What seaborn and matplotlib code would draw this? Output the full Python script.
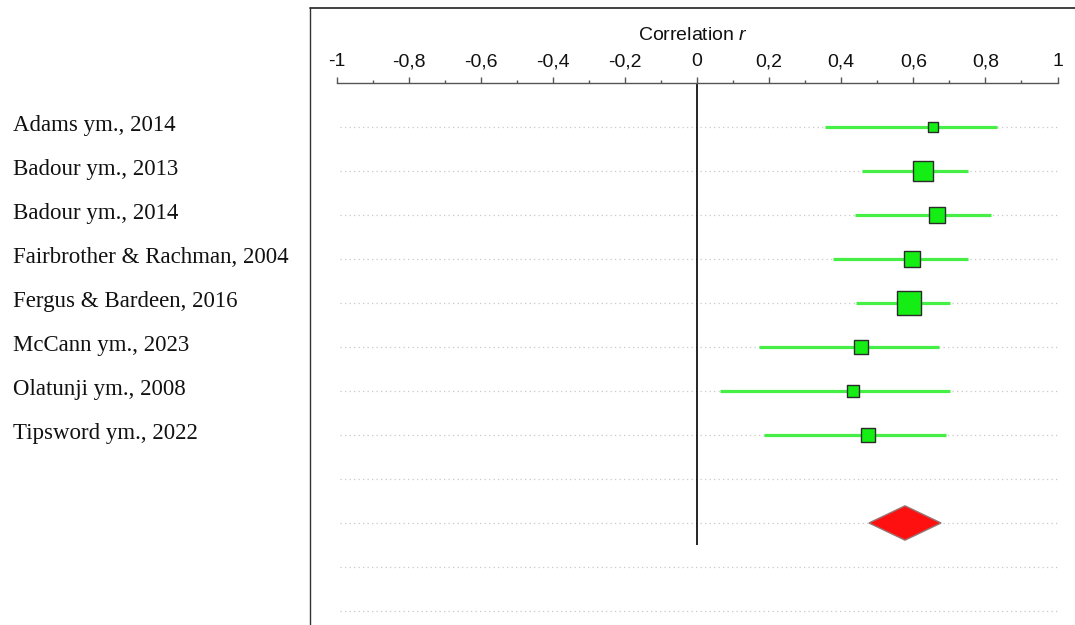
import matplotlib
matplotlib.use("Agg")
import matplotlib.pyplot as plt
import seaborn as sns
import pandas as pd
import numpy as np

# ---------------- data ----------------
studies = ["Adams ym., 2014", "Badour ym., 2013", "Badour ym., 2014",
           "Fairbrother & Rachman, 2004", "Fergus & Bardeen, 2016",
           "McCann ym., 2023", "Olatunji ym., 2008", "Tipsword ym., 2022"]
r_est = [0.655, 0.627, 0.666, 0.596, 0.588, 0.455, 0.433, 0.474]
ci_low = [0.355, 0.458, 0.438, 0.378, 0.441, 0.172, 0.064, 0.186]
ci_high = [0.832, 0.752, 0.816, 0.752, 0.702, 0.671, 0.702, 0.691]
weights = [5.3, 17.5, 11.2, 12.6, 27.4, 9.8, 6.3, 9.8]
pooled_est = 0.577
pooled_low = 0.477
pooled_high = 0.677
tick_values = [-1, -0.8, -0.6, -0.4, -0.2, 0, 0.2, 0.4, 0.6, 0.8, 1]
tick_labels = ["-1", "-0,8", "-0,6", "-0,4", "-0,2", "0", "0,2", "0,4", "0,6", "0,8", "1"]
axis_title = "Correlation"

# ---------------- layout ----------------
sns.set_theme(style="white")
plt.rcParams["font.family"] = ["Liberation Sans", "DejaVu Sans"]
plt.rcParams["mathtext.fontset"] = "custom"
plt.rcParams["mathtext.it"] = "Liberation Sans:italic"
plt.rcParams["mathtext.rm"] = "Liberation Sans"

W, H = 1075, 625
fig = plt.figure(figsize=(W / 100, H / 100), dpi=100)
ax = fig.add_axes([310 / W, 0, (W - 310) / W, (H - 8) / H])

px_per_unit = 360.5
x0_px = 697
row_px = 44
row0_px = 127
xmin = (310 - x0_px) / px_per_unit
xmax = (W - x0_px) / px_per_unit
ytop = (8 - row0_px) / row_px
ybot = (H - row0_px) / row_px
ax.set_xlim(xmin, xmax)
ax.set_ylim(ybot, ytop)

n = len(studies)
rows = np.arange(n)
pooled_row = n + 1
grid_rows = np.arange(n + 4)

df = pd.DataFrame({"study": studies, "r": r_est, "lo": ci_low, "hi": ci_high,
                   "w": weights, "row": rows})

# dotted guide lines
ax.hlines(grid_rows, -0.99, 1.0, colors="#c8c8c8", linestyles=(0, (1, 2.6)),
          lw=0.9, zorder=1)

# zero line
ax.vlines(0, -1, pooled_row + 0.5, color="black", lw=1.2, zorder=2)

# confidence intervals
ax.hlines(df["row"], df["lo"], df["hi"], colors="#45ef45", lw=2.3, zorder=3)

# study squares
sns.scatterplot(data=df, x="r", y="row", size="w", sizes=(0, 300),
                size_norm=(0, max(weights)), marker="s", color="#14ee14",
                edgecolor="#2b2b2b", linewidth=1.0, legend=False, ax=ax, zorder=4)

# pooled diamond
h = 0.39
ax.fill([pooled_low, pooled_est, pooled_high, pooled_est],
        [pooled_row, pooled_row - h, pooled_row, pooled_row + h],
        facecolor="#ff1010", edgecolor="#9a7373", lw=1.0, zorder=4)

# study labels on the y axis
ax.set_yticks(rows - 0.08)
ax.set_yticklabels(studies, fontfamily="Liberation Serif", fontsize=16.5,
                   color="#111111", ha="left")
ax.tick_params(axis="y", length=0, pad=(310 - 13) * 0.72)

# x axis drawn on the top spine, moved to the header row
ax.spines["top"].set_position(("data", -1))
ax.spines["top"].set_bounds(-1, 1)
ax.spines["top"].set_color("#555555")
ax.spines["top"].set_linewidth(1.0)
ax.spines["bottom"].set_visible(False)
ax.spines["right"].set_visible(False)
ax.spines["left"].set_color("#333333")
ax.spines["left"].set_linewidth(1.0)
ax.xaxis.set_ticks_position("top")
ax.xaxis.set_label_position("top")
ax.set_xticks(tick_values)
ax.set_xticklabels(tick_labels, fontsize=14, color="#111111")
ax.set_xticks(np.arange(-0.9, 1.0, 0.2), minor=True)
ax.tick_params(axis="x", which="major", direction="out", length=4, width=1,
               color="#555555", pad=5)
ax.tick_params(axis="x", which="minor", direction="out", length=2.2, width=1,
               color="#555555")
ax.set_xlabel(axis_title + r" $\mathit{r}$", fontsize=14, color="#111111",
              labelpad=10)
ax.set_ylabel("")

# frame top line
ax.axhline(ytop, color="#333333", lw=1.3, clip_on=False)

fig.savefig("out.png", dpi=100)
